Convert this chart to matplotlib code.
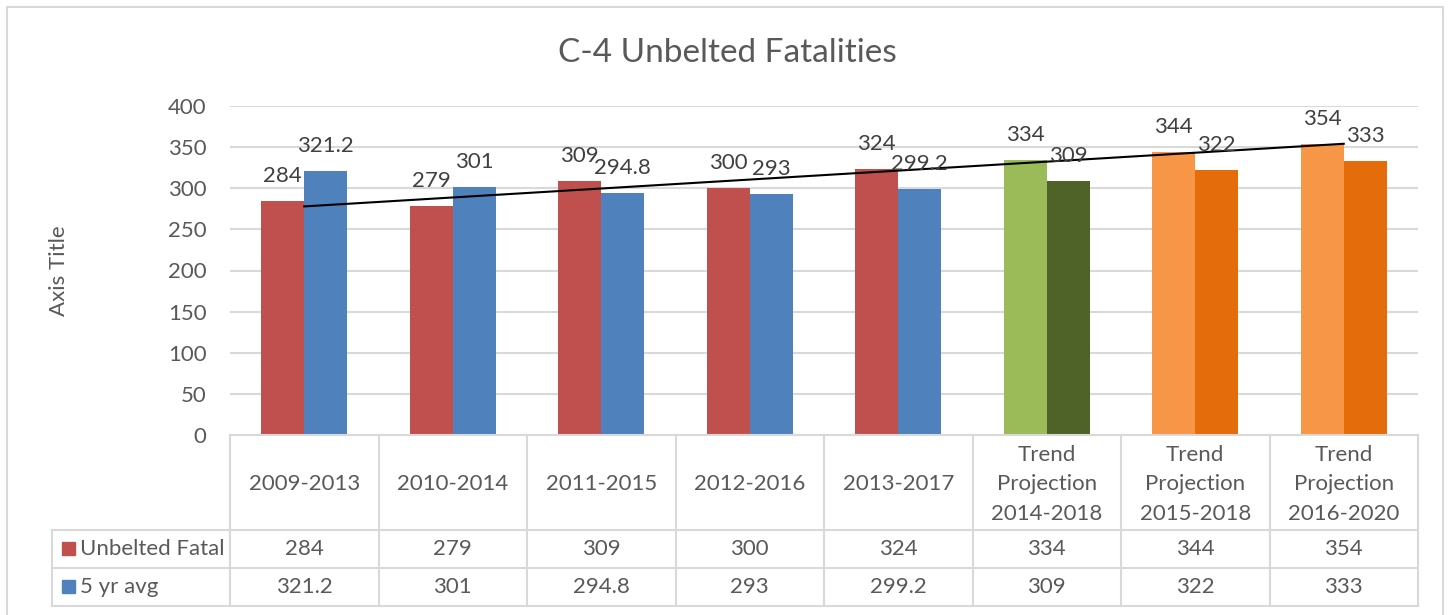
import numpy as np
import matplotlib.pyplot as plt
from matplotlib.patches import Rectangle

plt.rcParams['font.family'] = ['Lato', 'DejaVu Sans']

categories = ['2009-2013', '2010-2014', '2011-2015', '2012-2016', '2013-2017',
              'Trend\nProjection\n2014-2018', 'Trend\nProjection\n2015-2018',
              'Trend\nProjection\n2016-2020']
unbelted = [284, 279, 309, 300, 324, 334, 344, 354]
avg5 = [321.2, 301, 294.8, 293, 299.2, 309, 322, 333]
unbelted_txt = ['284', '279', '309', '300', '324', '334', '344', '354']
avg5_txt = ['321.2', '301', '294.8', '293', '299.2', '309', '322', '333']
series_names = ['Unbelted Fatal', '5 yr avg']

red_cols = ['#C0504D'] * 5 + ['#9BBB59', '#F79646', '#F79646']
blue_cols = ['#4F81BD'] * 5 + ['#4F6228', '#E46C0A', '#E46C0A']
grey = '#595959'
line_grey = '#D9D9D9'
fs = 16

W, H = 1450, 615
fig = plt.figure(figsize=(14.5, 6.15), dpi=100)

# outer frame
fig.patches.append(Rectangle((7 / W, -0.01), 1436 / W, 1 - 7 / H + 0.01,
                             transform=fig.transFigure, fill=False,
                             edgecolor=line_grey, linewidth=1.5))

fig.text(727 / W, 1 - 53 / H, 'C-4 Unbelted Fatalities', ha='center',
         va='center', fontsize=24, color=grey)

x0, x1, ytop, ybot = 230, 1418, 106, 435
ax = fig.add_axes([x0 / W, 1 - ybot / H, (x1 - x0) / W, (ybot - ytop) / H])
x = np.arange(len(categories)) + 0.5
bw = 0.29
ax.bar(x - bw / 2, unbelted, bw, color=red_cols)
ax.bar(x + bw / 2, avg5, bw, color=blue_cols)

for xi, v, t in zip(x, unbelted, unbelted_txt):
    ax.annotate(t, (xi - bw / 2, v), xytext=(0, 18), textcoords='offset points',
                ha='center', va='center', fontsize=fs, color='#404040')
for xi, v, t in zip(x, avg5, avg5_txt):
    ax.annotate(t, (xi + bw / 2, v), xytext=(0, 18), textcoords='offset points',
                ha='center', va='center', fontsize=fs, color='#404040')

# linear trendline on Unbelted Fatal
k, b = np.polyfit(np.arange(1, 9), unbelted, 1)
ax.plot([x[0], x[-1]], [k * 1 + b, k * 8 + b], color='black', linewidth=1.5)

ax.set_xlim(0, 8)
ax.set_ylim(0, 400)
ax.set_yticks(range(0, 401, 50))
ax.set_xticks([])
ax.yaxis.grid(True, color=line_grey, linewidth=1.5)
ax.set_axisbelow(True)
for s in ax.spines.values():
    s.set_visible(False)
ax.tick_params(axis='y', length=0, pad=17, labelsize=fs, labelcolor=grey)
ax.set_ylabel('Axis Title', fontsize=fs, color=grey, labelpad=71)

# data table
tl, tb = 52, 606
colw = (x1 - x0) / 8
tax = fig.add_axes([tl / W, 1 - tb / H, (x1 - tl) / W, (tb - ybot) / H])
tax.set_xlim(-(x0 - tl) / colw, 8)
tax.set_ylim(tb, ybot)
tax.axis('off')
lkw = dict(color=line_grey, linewidth=1.5, clip_on=False)
r1, r2 = 530, 568
left = -(x0 - tl) / colw
tax.plot([0, 8], [ybot, ybot], **lkw)
for yy in [r1, r2, tb]:
    tax.plot([left, 8], [yy, yy], **lkw)
for i in range(9):
    tax.plot([i, i], [ybot, tb], **lkw)
tax.plot([left, left], [r1, tb], **lkw)

for i, c in enumerate(categories):
    tax.text(i + 0.5, (ybot + r1) / 2 + 2, c, ha='center', va='center',
             fontsize=fs, color=grey, linespacing=1.6)
    tax.text(i + 0.5, (r1 + r2) / 2, unbelted_txt[i], ha='center', va='center',
             fontsize=fs, color=grey)
    tax.text(i + 0.5, (r2 + tb) / 2, avg5_txt[i], ha='center', va='center',
             fontsize=fs, color=grey)

for yc, name, col in [((r1 + r2) / 2, series_names[0], '#C0504D'),
                      ((r2 + tb) / 2, series_names[1], '#4F81BD')]:
    tax.add_patch(Rectangle((left + 10 / colw, yc - 6.5), 13 / colw, 13,
                            color=col, clip_on=False))
    tax.text(left + 28 / colw, yc, name, ha='left', va='center',
             fontsize=fs, color=grey)

fig.savefig('out.png', dpi=100)
